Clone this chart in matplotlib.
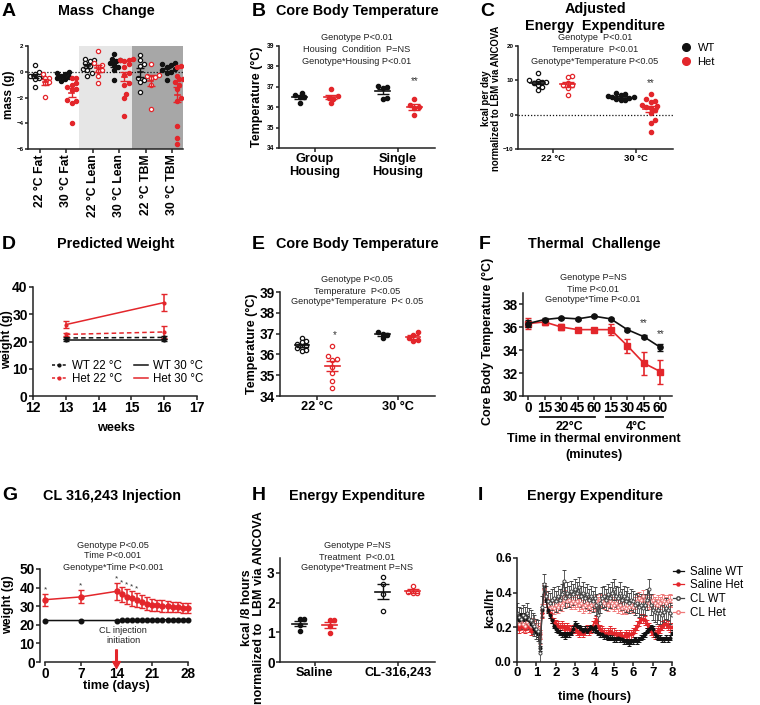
import numpy as np
import matplotlib
matplotlib.use('Agg')
import matplotlib.pyplot as plt
from matplotlib.lines import Line2D

plt.rcParams['font.family'] = ['Liberation Sans', 'DejaVu Sans']

W, H = 760, 705
RED = '#e3262b'
BLK = '#111111'

# ---------------- data ----------------
# A  mass change (g)
a_cats = ['22 °C Fat', '30 °C Fat', '22 °C Lean', '30 °C Lean', '22 °C TBM', '30 °C TBM']
a_filled = [False, True, False, True, False, True]
a_wt = [[0.5, 0.0, -0.15, -0.3, -0.35, -0.45, -0.55, -1.2],
        [-0.05, -0.1, -0.2, -0.3, -0.4, -0.5, -0.6, -0.7],
        [1.0, 0.9, 0.8, 0.65, 0.45, 0.2, 0.15, -0.1, -0.35],
        [1.4, 1.0, 0.9, 0.8, 0.65, 0.5, 0.4, 0.15, -0.65],
        [1.3, 0.9, 0.6, 0.45, -0.5, -0.65, -0.8, -1.55],
        [0.65, 0.6, 0.5, 0.4, 0.2, 0.1, 0.0, -0.1, -0.65]]
a_het = [[-0.2, -0.45, -0.5, -0.8, -0.85, -1.95],
         [-0.45, -0.5, -0.9, -1.05, -1.2, -1.35, -1.4, -2.2, -2.3, -2.4, -4.0],
         [1.6, 0.65, 0.5, 0.4, 0.15, 0.05, -0.35, -0.85],
         [1.0, 0.95, 0.9, 0.85, 0.6, 0.4, -0.1, -0.25, -0.85, -1.05, -1.75, -2.05, -3.45],
         [0.6, -0.25, -0.35, -0.4, -0.5, -1.05, -2.9],
         [0.45, 0.35, -0.3, -0.55, -0.6, -0.8, -1.05, -1.35, -2.05, -2.25, -4.2, -5.15, -5.6]]

# B  core body temperature, housing
b_cats = ['Group\nHousing', 'Single\nHousing']
b_wt = [[36.7, 36.5, 36.5, 36.6, 36.2], [37.05, 37.0, 36.95, 36.45, 36.4]]
b_het = [[36.9, 36.55, 36.45, 36.2, 36.4], [36.4, 36.1, 36.0, 35.95, 35.6]]

# C  adjusted energy expenditure (kcal/day)
c_cats = ['22 °C', '30 °C']
c_wt = [[12.0, 10.1, 9.8, 9.6, 9.4, 9.1, 8.6, 8.2, 7.2],
        [6.4, 6.0, 5.6, 5.3, 5.2, 5.0, 4.8, 4.6, 4.3, 4.2]]
c_het = [[11.3, 10.9, 9.1, 8.6, 8.5, 7.7, 5.7],
         [6.0, 4.5, 4.0, 3.8, 2.8, 2.5, 2.1, 1.8, 1.4, 0.4, -1.6, -2.3, -5.0]]

# D  predicted weight
d_weeks = [13, 16]
d_wt22 = [21.3, 21.5]
d_wt30 = [20.5, 20.5]
d_het22 = [22.6, 23.5]
d_het22_err = [0.7, 2.3]
d_het30 = [26.2, 34.3]
d_het30_err = [1.3, 3.0]

# E  core body temperature, ambient
e_cats = ['22 °C', '30 °C']
e_wt = [[36.8, 36.65, 36.6, 36.5, 36.4, 36.35, 36.3, 36.2, 36.15], [37.1, 37.0, 36.95, 36.8]]
e_het = [[36.4, 35.9, 35.8, 35.75, 35.4, 35.1, 34.7, 34.4], [37.1, 36.95, 36.8, 36.7, 36.65]]

# F  thermal challenge
f_labels = ['0', '15', '30', '45', '60', '15', '30', '45', '60']
f_wt = [36.33, 36.68, 36.83, 36.74, 36.97, 36.74, 35.8, 35.18, 34.25]
f_wt_err = [0.3, 0.12, 0.1, 0.1, 0.1, 0.1, 0.15, 0.15, 0.3]
f_het = [36.33, 36.47, 36.03, 35.8, 35.8, 35.8, 34.4, 32.87, 32.13]
f_het_err = [0.45, 0.3, 0.25, 0.15, 0.15, 0.45, 0.6, 1.0, 1.05]

# G  CL 316,243 injection
g_days = [0, 7, 14, 15, 16, 17, 18, 19, 20, 21, 22, 23, 24, 25, 26, 27, 28]
g_wt = [22.3, 22.3, 22.3, 22.4, 22.4, 22.5, 22.5, 22.5, 22.6, 22.6, 22.6, 22.7, 22.7, 22.7, 22.8, 22.8, 22.8]
g_het = [33.5, 35.0, 38.0, 36.3, 35.2, 34.2, 33.4, 32.3, 31.4, 30.8, 30.4, 30.1, 29.9, 29.6, 29.4, 29.2, 29.0]
g_het_err = [3.2, 3.5, 4.4, 4.2, 4.0, 3.9, 3.7, 3.5, 3.4, 3.2, 3.1, 3.0, 3.0, 2.8, 2.7, 2.6, 2.6]
g_star_days = [0, 7, 14, 15, 16, 17, 18]

# H  energy expenditure (kcal / 8 h)
h_cats = ['Saline', 'CL-316,243']
h_wt = [[1.46, 1.44, 1.25, 1.03], [2.85, 2.62, 2.28, 1.71]]
h_het = [[1.42, 1.40, 1.2, 0.97], [2.57, 2.34, 2.31, 2.31]]

# I  energy expenditure time course (kcal/hr), every 0.1 h
i_time = np.arange(81) / 10
i_sal_wt = [0.26, 0.24, 0.27, 0.25, 0.27, 0.25, 0.24, 0.22, 0.21, 0.19, 0.18, 0.16, 0.08, 0.30, 0.44,
            0.36, 0.30, 0.27, 0.24, 0.21, 0.19, 0.18, 0.17, 0.16, 0.16, 0.15, 0.16, 0.16, 0.17, 0.19,
            0.22, 0.21, 0.20, 0.19, 0.18, 0.19, 0.18, 0.19, 0.20, 0.19, 0.20, 0.18, 0.17, 0.16, 0.16,
            0.15, 0.15, 0.14, 0.14, 0.14, 0.13, 0.13, 0.14, 0.13, 0.13, 0.12, 0.12, 0.12, 0.11, 0.12,
            0.12, 0.13, 0.12, 0.13, 0.14, 0.15, 0.16, 0.18, 0.19, 0.20, 0.19, 0.16, 0.15, 0.14, 0.14,
            0.13, 0.13, 0.14, 0.13, 0.14, 0.17]
i_sal_het = [0.21, 0.19, 0.21, 0.20, 0.19, 0.21, 0.20, 0.18, 0.19, 0.20, 0.19, 0.18, 0.16, 0.28, 0.42,
             0.36, 0.32, 0.28, 0.25, 0.23, 0.22, 0.21, 0.20, 0.21, 0.20, 0.19, 0.20, 0.19, 0.18, 0.19,
             0.19, 0.18, 0.17, 0.18, 0.17, 0.18, 0.19, 0.18, 0.19, 0.21, 0.23, 0.24, 0.21, 0.19, 0.18,
             0.17, 0.16, 0.17, 0.18, 0.17, 0.17, 0.16, 0.15, 0.16, 0.15, 0.15, 0.16, 0.15, 0.16, 0.16,
             0.17, 0.19, 0.21, 0.23, 0.25, 0.25, 0.24, 0.22, 0.20, 0.18, 0.17, 0.16, 0.17, 0.18, 0.19,
             0.21, 0.22, 0.22, 0.21, 0.20, 0.20]
i_cl_wt = [0.28, 0.26, 0.25, 0.27, 0.26, 0.28, 0.25, 0.24, 0.22, 0.21, 0.19, 0.18, 0.05, 0.32, 0.45,
           0.38, 0.35, 0.34, 0.36, 0.37, 0.35, 0.38, 0.36, 0.39, 0.47, 0.37, 0.40, 0.38, 0.41, 0.39,
           0.42, 0.40, 0.43, 0.38, 0.40, 0.37, 0.39, 0.36, 0.38, 0.35, 0.37, 0.33, 0.27, 0.34, 0.37,
           0.38, 0.36, 0.39, 0.37, 0.40, 0.42, 0.38, 0.37, 0.40, 0.36, 0.38, 0.35, 0.37, 0.34, 0.36,
           0.35, 0.33, 0.34, 0.32, 0.33, 0.31, 0.33, 0.36, 0.42, 0.33, 0.30, 0.29, 0.28, 0.30, 0.28,
           0.27, 0.29, 0.31, 0.30, 0.28, 0.27]
i_cl_het = [0.23, 0.22, 0.24, 0.22, 0.21, 0.23, 0.22, 0.21, 0.22, 0.20, 0.21, 0.19, 0.14, 0.30, 0.42,
            0.37, 0.33, 0.31, 0.32, 0.31, 0.33, 0.32, 0.34, 0.33, 0.36, 0.38, 0.35, 0.36, 0.34, 0.35,
            0.34, 0.35, 0.33, 0.34, 0.32, 0.33, 0.34, 0.32, 0.33, 0.34, 0.33, 0.35, 0.34, 0.36, 0.35,
            0.34, 0.36, 0.33, 0.35, 0.34, 0.33, 0.34, 0.32, 0.33, 0.31, 0.32, 0.31, 0.33, 0.32, 0.33,
            0.32, 0.34, 0.35, 0.37, 0.36, 0.38, 0.36, 0.35, 0.34, 0.35, 0.36, 0.34, 0.33, 0.35, 0.34,
            0.36, 0.35, 0.34, 0.35, 0.36, 0.35]
i_err = {'sal_wt': 0.015, 'sal_het': 0.025, 'cl_wt': 0.06, 'cl_het': 0.035}

# ---------------- helpers ----------------
fig = plt.figure(figsize=(W / 100, H / 100), dpi=100)


def new_ax(l, t, r, b):
    ax = fig.add_axes([l / W, 1 - b / H, (r - l) / W, (b - t) / H])
    ax.spines['top'].set_visible(False)
    ax.spines['right'].set_visible(False)
    for s in ('left', 'bottom'):
        ax.spines[s].set_linewidth(1.1)
        ax.spines[s].set_color('#222222')
    ax.tick_params(direction='out', length=3, width=1.1, color='#222222', pad=0.8)
    ax.set_facecolor('none')
    return ax


def put(x, y, s, **kw):
    kw.setdefault('ha', 'center')
    kw.setdefault('va', 'center')
    fig.text(x / W, 1 - y / H, s, **kw)


def swarm(ax, x0, vals, d):
    pts = ax.transData.transform(np.column_stack([np.full(len(vals), x0), vals]))
    shift = np.zeros(len(vals))
    placed = []
    cands = [0.0]
    for k in range(1, 40):
        cands += [k * d * 0.5, -k * d * 0.5]
    for i in np.argsort(vals):
        px, py = pts[i]
        for c in cands:
            if all((px + c - qx) ** 2 + (py - qy) ** 2 >= (0.95 * d) ** 2 for qx, qy in placed):
                break
        placed.append((px + c, py))
        shift[i] = c
    inv = ax.transData.inverted()
    return inv.transform(np.column_stack([pts[:, 0] + shift, pts[:, 1]]))[:, 0]


def group(ax, x0, vals, color, filled, d=4.3, half=0.09, cap=4):
    vals = np.asarray(vals, float)
    xs = swarm(ax, x0, vals, d)
    ax.scatter(xs, vals, s=(d * 0.72) ** 2, facecolors=color if filled else 'white',
               edgecolors=color, linewidths=0.9, zorder=3)
    m = vals.mean()
    se = vals.std(ddof=1) / np.sqrt(len(vals))
    ax.plot([x0 - half, x0 + half], [m, m], color=color, lw=1.2, zorder=4)
    ax.errorbar(x0, m, yerr=se, fmt='none', ecolor=color, elinewidth=1.0, capsize=cap,
                capthick=1.0, zorder=4)


def stats(x, ys, lines):
    for y, s in zip(ys, lines):
        put(x, y, s, fontsize=6.6, color='#222222')


def bold_ticks(ax):
    for lab in ax.get_xticklabels() + ax.get_yticklabels():
        lab.set_fontweight('bold')


TITLE = dict(fontsize=10.4, fontweight='bold')
LETTER = dict(fontsize=14, fontweight='bold', ha='left')
BOLD = 'bold'

# ---------------- A ----------------
ax = new_ax(28, 46, 183, 149)
ax.set_xlim(-0.45, 5.42)
ax.set_ylim(-6, 2)
ax.axvspan(1.5, 3.5, color='#e6e6e6', zorder=0, lw=0)
ax.axvspan(3.5, 5.42, color='#a7a7a7', zorder=0, lw=0)
ax.axhline(0, color=BLK, ls=(0, (1, 1.5)), lw=0.9, zorder=1)
ax.set_yticks([-6, -4, -2, 0, 2])
ax.set_xticks(range(len(a_cats)))
ax.set_xticklabels(a_cats, rotation=90, fontsize=8.8)
ax.tick_params(axis='y', labelsize=4.5, length=2.5)
bold_ticks(ax)
for i in range(len(a_cats)):
    group(ax, i - 0.2, a_wt[i], BLK, a_filled[i], d=4.2, half=0.1, cap=3)
    group(ax, i + 0.2, a_het[i], RED, a_filled[i], d=4.2, half=0.1, cap=3)
put(9, 95, 'mass (g)', rotation=90, fontsize=8.5, fontweight=BOLD)
put(2, 11, 'A', **LETTER)
put(106, 11, 'Mass  Change', **TITLE)

# ---------------- B ----------------
ax = new_ax(279, 46, 435, 148)
ax.set_xlim(-0.43, 1.45)
ax.set_ylim(34, 39)
ax.set_xticks([0, 1])
ax.set_xticklabels(b_cats, fontsize=9.2, linespacing=1.1)
ax.set_yticks(range(34, 40))
ax.tick_params(axis='y', labelsize=4.8, length=2.5)
bold_ticks(ax)
for i in range(2):
    group(ax, i - 0.18, b_wt[i], BLK, True)
    group(ax, i + 0.2, b_het[i], RED, True)
ax.text(1.2, 37.3, '**', ha='center', va='center', fontsize=7, color='#333333')
stats(357, [38, 49.5, 61], ['Genotype P<0.01', 'Housing  Condition  P=NS', 'Genotype*Housing P<0.01'])
put(257, 97, 'Temperature (°C)', rotation=90, fontsize=9, fontweight=BOLD)
put(252, 11, 'B', **LETTER)
put(357, 11, 'Core Body Temperature', **TITLE)

# ---------------- C ----------------
ax = new_ax(518, 46, 673, 149)
ax.set_xlim(-0.42, 1.45)
ax.set_ylim(-10, 20)
ax.axhline(0, color=BLK, ls=(0, (1, 1.5)), lw=0.9, zorder=1)
ax.set_xticks([0, 1])
ax.set_xticklabels(c_cats, fontsize=6.8)
ax.set_yticks([-10, 0, 10, 20])
ax.tick_params(axis='y', labelsize=4.5, length=2.5)
bold_ticks(ax)
for i in range(2):
    group(ax, i - 0.18, c_wt[i], BLK, i == 1)
    group(ax, i + 0.18, c_het[i], RED, i == 1)
ax.text(1.18, 9.2, '**', ha='center', va='center', fontsize=7, color='#333333')
stats(595, [38, 49.5, 61], ['Genotype  P<0.01', 'Temperature  P<0.01', 'Genotype*Temperature P<0.05'])
put(491, 98, 'kcal per day\nnormalized to LBM via ANCOVA', rotation=90, fontsize=6.9,
    fontweight=BOLD, linespacing=1.05)
handles = [Line2D([], [], ls='none', marker='o', ms=5.5, color=BLK),
           Line2D([], [], ls='none', marker='o', ms=5.5, color=RED)]
fig.legend(handles, ['WT', 'Het'], loc='upper left', bbox_to_anchor=(672 / W, 1 - 33 / H),
           frameon=False, fontsize=8, handlelength=0.8, handletextpad=0.6, labelspacing=0.35)
put(480, 11, 'C', **LETTER)
put(595, 9, 'Adjusted', **TITLE)
put(595, 26, 'Energy  Expenditure', **TITLE)

# ---------------- D ----------------
ax = new_ax(33, 287, 197, 396)
ax.set_xlim(12, 17)
ax.set_ylim(0, 40)
ax.set_xticks(range(12, 18))
ax.set_yticks(range(0, 41, 10))
ax.tick_params(labelsize=10)
bold_ticks(ax)
DASH = (0, (3, 2))
ax.errorbar(d_weeks, d_wt22, yerr=0.4, color=BLK, ls=DASH, lw=1.1, marker='o', ms=2, capsize=2)
ax.errorbar(d_weeks, d_het22, yerr=d_het22_err, color=RED, ls=DASH, lw=1.1, marker='o', ms=2,
            capsize=2)
ax.errorbar(d_weeks, d_wt30, yerr=0.4, color=BLK, lw=1.1, marker='o', ms=2, capsize=2)
ax.errorbar(d_weeks, d_het30, yerr=d_het30_err, color=RED, lw=1.1, marker='o', ms=2, capsize=2)
d_handles = [Line2D([], [], color=BLK, ls=(0, (2, 1.5)), lw=1.1, marker='o', ms=2),
             Line2D([], [], color=RED, ls=(0, (2, 1.5)), lw=1.1, marker='o', ms=2),
             Line2D([], [], color=BLK, lw=1.1),
             Line2D([], [], color=RED, lw=1.1)]
ax.legend(d_handles, ['WT 22 °C', 'Het 22 °C', 'WT 30 °C', 'Het 30 °C'], loc='upper left',
          bbox_to_anchor=(0.09, 0.37), ncol=2, frameon=False, fontsize=8.3, handlelength=1.2,
          handletextpad=0.5, columnspacing=1.0, labelspacing=0.05, borderaxespad=0)
put(7, 340, 'weight (g)', rotation=90, fontsize=8.9, fontweight=BOLD)
put(116, 428, 'weeks', fontsize=9.1, fontweight=BOLD)
put(2, 244, 'D', **LETTER)
put(116, 244, 'Predicted Weight', **TITLE)

# ---------------- E ----------------
ax = new_ax(280, 292, 435, 396)
ax.set_xlim(-0.46, 1.46)
ax.set_ylim(34, 39)
ax.set_xticks([0, 1])
ax.set_xticklabels(e_cats, fontsize=9.2)
ax.set_yticks(range(34, 40))
ax.tick_params(axis='y', labelsize=9.8)
bold_ticks(ax)
for i in range(2):
    group(ax, i - 0.19, e_wt[i], BLK, i == 1)
    group(ax, i + 0.19, e_het[i], RED, i == 1)
ax.text(0.22, 36.95, '*', ha='center', va='center', fontsize=7, color='#333333')
stats(357, [280, 291, 302], ['Genotype P<0.05', 'Temperature  P<0.05', 'Genotype*Temperature  P< 0.05'])
put(252, 344, 'Temperature (°C)', rotation=90, fontsize=9, fontweight=BOLD)
put(252, 244, 'E', **LETTER)
put(357, 244, 'Core Body Temperature', **TITLE)

# ---------------- F ----------------
ax = new_ax(523, 293, 672, 396)
fx = np.arange(len(f_labels))
ax.set_xlim(-0.3, 8.7)
ax.set_ylim(30, 39)
ax.set_xticks(fx)
ax.set_xticklabels(f_labels, fontsize=9.8)
ax.set_yticks(range(30, 39, 2))
ax.tick_params(axis='y', labelsize=9.8)
bold_ticks(ax)
ax.errorbar(fx, f_wt, yerr=f_wt_err, color=BLK, lw=1.2, marker='o', ms=3.8, capsize=2.5, zorder=4)
ax.errorbar(fx, f_het, yerr=f_het_err, color=RED, lw=1.2, marker='s', ms=3.8, capsize=2.5, zorder=3)
ax.text(7, 36.35, '**', ha='center', va='center', fontsize=7, color='#333333')
ax.text(8, 35.4, '**', ha='center', va='center', fontsize=7, color='#333333')
tx = ax.get_xaxis_transform()
ax.plot([0.71, 4.05], [-0.2, -0.2], color=BLK, lw=1.3, transform=tx, clip_on=False)
ax.plot([4.72, 8.14], [-0.2, -0.2], color=BLK, lw=1.3, transform=tx, clip_on=False)
put(569, 427, '22°C', fontsize=9, fontweight=BOLD)
put(636, 427, '4°C', fontsize=9, fontweight=BOLD)
put(594, 439, 'Time in thermal environment', fontsize=9.2, fontweight=BOLD)
put(594, 455, '(minutes)', fontsize=9.2, fontweight=BOLD)
stats(593, [278, 289, 300], ['Genotype P=NS', 'Time P<0.01', 'Genotype*Time P<0.01'])
put(488, 341, 'Core Body Temperature (°C)', rotation=90, fontsize=9, fontweight=BOLD)
put(479, 244, 'F', **LETTER)
put(594, 244, 'Thermal  Challenge', **TITLE)

# ---------------- G ----------------
ax = new_ax(40, 569, 192, 662)
ax.set_xlim(-1.0, 28.8)
ax.set_ylim(0, 50)
ax.spines['bottom'].set_bounds(0, 28)
ax.set_xticks([0, 7, 14, 21, 28])
ax.set_yticks(range(0, 51, 10))
ax.tick_params(labelsize=9.8)
bold_ticks(ax)
ax.plot(g_days, g_wt, color=BLK, lw=1.1, marker='o', ms=3.3, zorder=3)
ax.errorbar(g_days, g_het, yerr=g_het_err, color=RED, lw=1.1, marker='o', ms=3.6, capsize=2,
            zorder=4)
for dday in g_star_days:
    k = g_days.index(dday)
    ax.text(dday, g_het[k] + g_het_err[k] + 2.3, '*', ha='center', va='center', fontsize=6,
            color='#333333')
ax.annotate('', xy=(14, -3.5), xytext=(14, 6.5), annotation_clip=False,
            arrowprops=dict(facecolor=RED, edgecolor=RED, width=1.2, headwidth=5.5,
                            headlength=5, shrink=0))
ax.text(15.3, 14.3, 'CL injection\ninitiation', ha='center', va='center', fontsize=6.6,
        color='#222222', linespacing=1.15)
stats(113, [545, 556, 568], ['Genotype P<0.05', 'Time P<0.001', 'Genotype*Time P<0.001'])
put(8, 605, 'weight (g)', rotation=90, fontsize=8.9, fontweight=BOLD)
put(116, 686, 'time (days)', fontsize=9.1, fontweight=BOLD)
put(2, 496, 'G', **LETTER)
put(112, 496, 'CL 316,243 Injection', **TITLE)

# ---------------- H ----------------
ax = new_ax(280, 558, 435, 662)
ax.set_xlim(-0.42, 1.45)
ax.set_ylim(0, 3.5)
ax.set_xticks([0, 1])
ax.set_xticklabels(h_cats, fontsize=9.2)
ax.set_yticks([0, 1, 2, 3])
ax.tick_params(axis='y', labelsize=9.8)
bold_ticks(ax)
for i in range(2):
    group(ax, i - 0.18, h_wt[i], BLK, i == 0)
    group(ax, i + 0.18, h_het[i], RED, i == 0)
stats(357, [546, 557, 568], ['Genotype P=NS', 'Treatment  P<0.01', 'Genotype*Treatment P=NS'])
put(253, 608, 'kcal /8 hours\nnormalized to  LBM via ANCOVA', rotation=90, fontsize=9,
    fontweight=BOLD, linespacing=1.05)
put(252, 496, 'H', **LETTER)
put(357, 496, 'Energy Expenditure', **TITLE)

# ---------------- I ----------------
ax = new_ax(517, 558, 672, 662)
ax.set_xlim(0, 8)
ax.set_ylim(0, 0.6)
ax.set_xticks(range(0, 9))
ax.set_yticks([0, 0.2, 0.4, 0.6])
ax.set_yticklabels(['0.0', '0.2', '0.4', '0.6'])
ax.tick_params(axis='x', labelsize=9.5)
ax.tick_params(axis='y', labelsize=8.6)
bold_ticks(ax)
series = [(i_sal_het, i_err['sal_het'], RED, RED),
          (i_cl_het, i_err['cl_het'], '#f07a7a', 'white'),
          (i_sal_wt, i_err['sal_wt'], BLK, BLK),
          (i_cl_wt, i_err['cl_wt'], '#444444', 'white')]
for vals, err, col, mfc in series:
    ax.errorbar(i_time, vals, yerr=err, color=col, lw=0.9, marker='o', ms=2.2, mfc=mfc, mew=0.7,
                elinewidth=0.6, capsize=1.2)
leg_h = [Line2D([], [], color=BLK, marker='o', ms=2.2, lw=0.9),
         Line2D([], [], color=RED, marker='o', ms=2.2, lw=0.9),
         Line2D([], [], color='#444444', marker='o', ms=2.5, mfc='white', lw=0.9),
         Line2D([], [], color='#f07a7a', marker='o', ms=2.5, mfc='white', lw=0.9)]
fig.legend(leg_h, ['Saline WT', 'Saline Het', 'CL WT', 'CL Het'], loc='upper left',
           bbox_to_anchor=(668 / W, 1 - 561 / H), frameon=False, fontsize=8.3, handlelength=1.0,
           handletextpad=0.5, labelspacing=0.15, borderaxespad=0)
put(490, 608, 'kcal/hr', rotation=90, fontsize=9, fontweight=BOLD)
put(595, 697, 'time (hours)', fontsize=9.1, fontweight=BOLD)
put(478, 496, 'I', **LETTER)
put(595, 496, 'Energy Expenditure', **TITLE)

fig.savefig('out.png', dpi=100)
